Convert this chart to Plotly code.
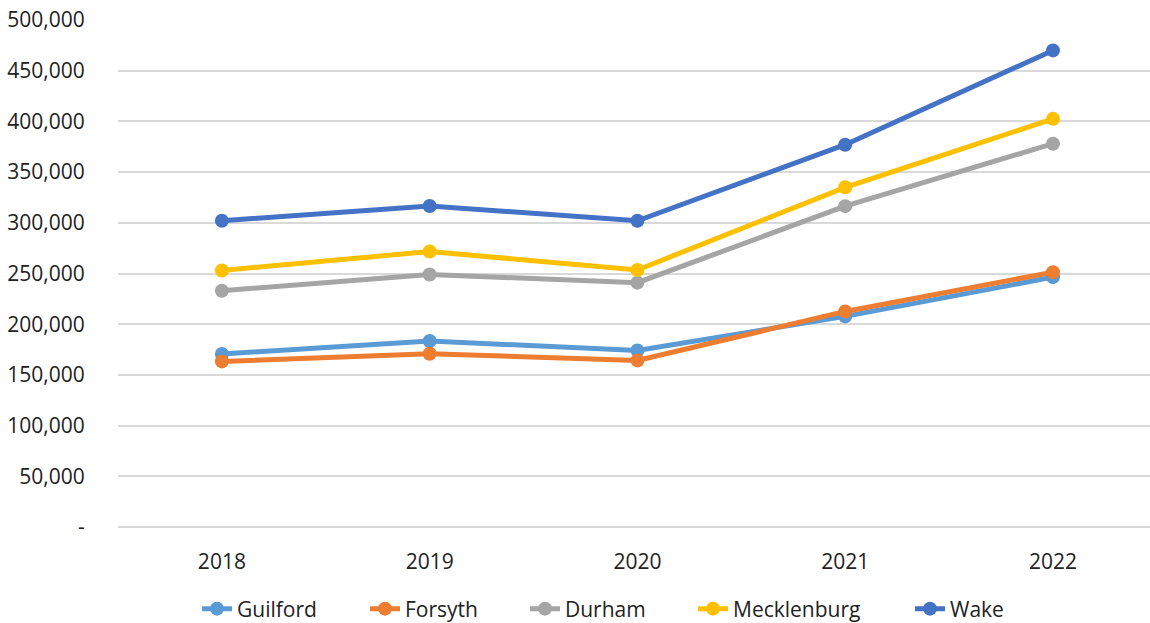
import plotly.graph_objects as go

years = ["2018", "2019", "2020", "2021", "2022"]
guilford = [170700, 183500, 174000, 207700, 246400]
forsyth = [163300, 170900, 164300, 212600, 251300]
durham = [233000, 249000, 241000, 316400, 378000]
mecklenburg = [253000, 271700, 253500, 335000, 402500]
wake = [302000, 316600, 302000, 377000, 470000]

series_names = ["Guilford", "Forsyth", "Durham", "Mecklenburg", "Wake"]
series_values = [guilford, forsyth, durham, mecklenburg, wake]
colors = ["#5B9BD5", "#ED7D31", "#A5A5A5", "#FFC000", "#4472C4"]

y_tickvals = [0, 50000, 100000, 150000, 200000, 250000, 300000, 350000, 400000, 450000, 500000]
y_ticktext = ["-", "50,000", "100,000", "150,000", "200,000", "250,000", "300,000",
              "350,000", "400,000", "450,000", "500,000"]

W, H = 1150, 623
# left edge (px) of each legend entry's text in the reference
legend_text_x = [237, 405, 565, 733, 950]
legend_ids = ["legend", "legend2", "legend3", "legend4", "legend5"]

fig = go.Figure()
for name, vals, c, lid in zip(series_names, series_values, colors, legend_ids):
    fig.add_trace(go.Scatter(
        x=years, y=vals, name=name, mode="lines+markers",
        line=dict(color=c, width=5),
        marker=dict(color=c, size=14),
        legend=lid,
    ))

font_family = "Open Sans, Liberation Sans, sans-serif"
layout_legends = {}
for lid, tx in zip(legend_ids, legend_text_x):
    layout_legends[lid] = dict(
        orientation="h", xref="container", yref="container",
        x=(tx - 40) / W, xanchor="left", y=(H - 609) / H, yanchor="middle",
        font=dict(size=21), bgcolor="rgba(0,0,0,0)",
    )

fig.update_layout(
    width=W, height=H,
    margin=dict(l=118, r=0, t=20, b=96, autoexpand=False),
    plot_bgcolor="white", paper_bgcolor="white",
    font=dict(family=font_family, size=21, color="#222222"),
    xaxis=dict(
        type="category", range=[-0.5, 4.467], automargin=False,
        showgrid=False, zeroline=False, showline=False,
        ticks="outside", ticklen=16, tickcolor="rgba(0,0,0,0)",
        tickfont=dict(size=21),
    ),
    yaxis=dict(
        range=[0, 500000], automargin=False,
        tickvals=y_tickvals, ticktext=y_ticktext,
        showgrid=True, gridcolor="#D9D9D9", gridwidth=1.5,
        zeroline=True, zerolinecolor="#D9D9D9", zerolinewidth=1.5,
        showline=False,
        ticks="outside", ticklen=28, tickcolor="rgba(0,0,0,0)",
        tickfont=dict(size=21),
    ),
    showlegend=True,
    **layout_legends,
)

fig.write_html("out.html")
